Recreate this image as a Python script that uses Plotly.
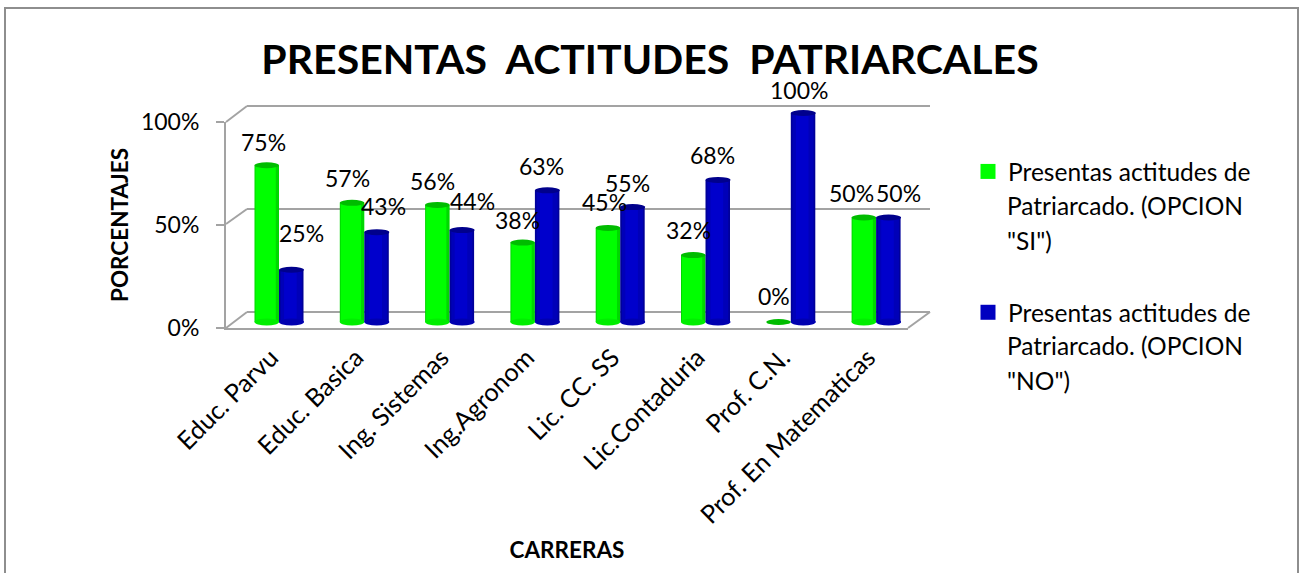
import plotly.graph_objects as go

W, H = 1303, 573
FONT = "Lato, Carlito, 'Open Sans', sans-serif"

categories = ["Educ. Parvu", "Educ. Basica", "Ing. Sistemas", "Ing.Agronom", "Lic. CC. SS",
              "Lic.Contaduria", "Prof. C.N.", "Prof. En Matematicas"]
si_values = [75, 57, 56, 38, 45, 32, 0, 50]
no_values = [25, 43, 44, 63, 55, 68, 100, 50]
legend_first = "Presentas actitudes de"
si_rest = ["Patriarcado. (OPCION", '"SI")']
no_rest = ["Patriarcado. (OPCION", '"NO")']

# label nudges, in pixels, around each bar top
si_dx = [-16, -17, -17, -17, -16, -17, -17, -25]
si_dy = [23, 25, 24, 23, 26, 25, 26, 25]
no_dx = [22, 19, 23, 7, 7, 7, 8, 22]
no_dy = [37, 26, 29, 24, 24, 25, 23, 25]

GRID = "#a3a3a3"


def xdom(a, b):
    return [a / W, b / W]


def ydom(top, bottom):
    return [(H - bottom) / H, (H - top) / H]


def px(x):
    return x / W


def py(y):
    return (H - y) / H


fig = go.Figure()

# back wall gridlines (x/y), front frame (x2/y2): empty carriers for the axes
fig.add_trace(go.Scatter(x=[0], y=[0], xaxis="x", yaxis="y", mode="none", showlegend=False, hoverinfo="skip"))
fig.add_trace(go.Scatter(x=[0], y=[0], xaxis="x2", yaxis="y2", mode="none", showlegend=False, hoverinfo="skip"))

BW = 24.5 / 85.3
layers = [
    # values, colour, left offset, width
    (si_values, "#00d800", -BW, BW),
    (si_values, "#00ff00", -BW + 0.012, BW - 0.05),
    (no_values, "#00009a", 0, BW),
    (no_values, "#0000b8", 0.02, BW - 0.04),
    (no_values, "#0000cc", 0.06, BW - 0.14),
]
for vals, color, off, wid in layers:
    fig.add_trace(go.Bar(
        x=categories, y=vals, xaxis="x3", yaxis="y3", marker=dict(color=color, line_width=0),
        offset=off, width=wid, showlegend=False, hoverinfo="skip",
    ))

# legend keys
for color, group in [("#00ff00", "si"), ("#0000c0", "no")]:
    fig.add_trace(go.Scatter(
        x=[None], y=[None], xaxis="x3", yaxis="y3", mode="markers", name=legend_first, legendgroup=group,
        marker=dict(symbol="square", size=15, color=color),
    ))

shapes = [
    dict(type="rect", xref="paper", yref="paper", x0=px(5), x1=px(1298), y0=py(8), y1=py(590),
         line=dict(color="#8e8e8e", width=2), layer="below"),
]
# perspective edges joining the front frame to the back wall
for x0, y0, x1, y1 in [(226, 122, 247, 106), (226, 224, 247, 209), (226, 328, 247, 312), (908, 328, 930, 312)]:
    shapes.append(dict(type="line", xref="paper", yref="paper", x0=px(x0), y0=py(y0), x1=px(x1), y1=py(y1),
                       line=dict(color=GRID, width=2), layer="below"))


def cap(cat, val, x0, x1, y0, y1, color):
    return dict(type="circle", xref="x3", yref="y3", xsizemode="pixel", ysizemode="pixel",
                xanchor=cat, yanchor=val, x0=x0, x1=x1, y0=y0, y1=y1,
                fillcolor=color, line_width=0, layer="above")


for cat, s, n in zip(categories, si_values, no_values):
    if s > 0:
        shapes.append(cap(cat, 0, -24.5, 0, -3.5, 3.5, "#00ee00"))
    shapes.append(cap(cat, s, -24.5, 0, -3, 3, "#00bc00"))
    shapes.append(cap(cat, 0, 0, 25, -3.5, 3.5, "#0000b0"))
    shapes.append(cap(cat, n, 0, 25, -3, 3, "#00008c"))

annotations = []
for vals, dxs, dys in [(si_values, si_dx, si_dy), (no_values, no_dx, no_dy)]:
    for c, v, dx, dy in zip(categories, vals, dxs, dys):
        annotations.append(dict(x=c, y=v, xref="x3", yref="y3", text=f"{v}%", showarrow=False,
                                xshift=dx, yshift=dy, xanchor="center", yanchor="middle",
                                font=dict(size=23, color="black", family=FONT)))

# wrapped remainder of each legend entry
for line, yy in [(si_rest[0], 205), (si_rest[1], 240), (no_rest[0], 345), (no_rest[1], 380)]:
    annotations.append(dict(x=px(1005), y=py(yy), xref="paper", yref="paper", text=line, showarrow=False,
                            xanchor="left", yanchor="middle", font=dict(size=24.5, color="black", family=FONT)))

fig.update_layout(
    template="none",
    width=W, height=H, autosize=False, margin=dict(l=0, r=0, t=0, b=0, pad=0),
    paper_bgcolor="white", plot_bgcolor="rgba(0,0,0,0)",
    font=dict(family=FONT, color="black"),
    title=dict(text="PRESENTAS\u00a0\u00a0ACTITUDES\u00a0\u00a0PATRIARCALES", x=650 / W, xanchor="center",
               y=py(60), yanchor="middle", font=dict(size=41, color="black", family=FONT, weight="bold")),
    barmode="overlay",
    shapes=shapes, annotations=annotations,
    showlegend=True,
    legend=dict(x=px(968), y=py(149), xanchor="left", yanchor="top", font=dict(size=24.5, color="black"),
                tracegroupgap=106, bgcolor="rgba(0,0,0,0)", traceorder="grouped"),
    # back wall
    xaxis=dict(domain=xdom(247, 930), anchor="y", range=[0, 1], visible=False, automargin=False),
    yaxis=dict(domain=ydom(106 - 2.065, 312.5 + 2.065), anchor="x", range=[-1, 101], tickvals=[0, 50, 100],
               showticklabels=False, showgrid=True, gridcolor=GRID, gridwidth=2, zeroline=False,
               showline=False, ticks="", automargin=False),
    # front frame with percentage labels
    xaxis2=dict(domain=xdom(226, 908), anchor="y2", range=[0, 1], showticklabels=False, ticks="",
                showgrid=False, zeroline=False, showline=True, linecolor=GRID, linewidth=2, automargin=False,
                title=dict(text="<b>CARRERAS</b>", font=dict(size=22.5, color="black"), standoff=213)),
    yaxis2=dict(domain=ydom(122, 328), anchor="x2", range=[0, 100], tickvals=[0, 50, 100],
                ticktext=["0%", "50%", "100%"], ticks="outside", ticklen=8, tickcolor=GRID, tickwidth=2,
                ticklabelstandoff=12,
                tickfont=dict(size=23, color="black"), showgrid=False, zeroline=False,
                showline=True, linecolor=GRID, linewidth=2, automargin=False,
                title=dict(text="<b>PORCENTAJES</b>", font=dict(size=22.5, color="black"), standoff=6)),
    # bars
    xaxis3=dict(domain=xdom(236.35, 918.75), anchor="y3", type="category", categoryorder="array",
                categoryarray=categories, range=[-0.5, 7.5], tickangle=-45, tickfont=dict(size=25.2, color="black"),
                ticks="", showgrid=False, zeroline=False, showline=False, ticklabelstandoff=9, ticklabelshift=-8,
                automargin=False),
    yaxis3=dict(domain=ydom(113 - 6.27, 328), anchor="x3", range=[-2.87, 103], visible=False, automargin=False),
)

fig.write_html("out.html", config={"displayModeBar": False}, post_script="document.body.style.margin='0';")
